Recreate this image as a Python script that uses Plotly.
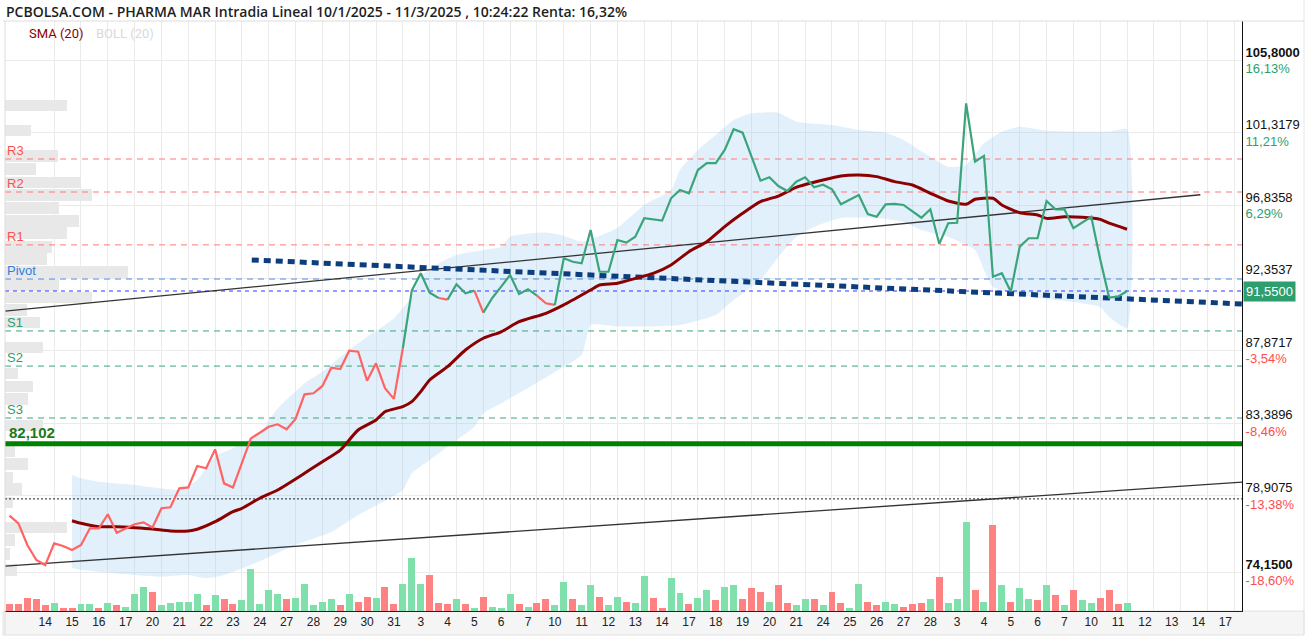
import plotly.graph_objects as go

# ---------------- data ----------------
days = ["13", "14", "15", "16", "17", "20", "21", "22", "23", "24", "27", "28", "29", "30", "31",
        "3", "4", "5", "6", "7", "10", "11", "12", "13", "14", "17", "18", "19", "20", "21",
        "24", "25", "26", "27", "28",
        "3", "4", "5", "6", "7", "10", "11", "12", "13", "14", "17"]
BARS_PER_DAY = 3

price = [77.66, 77.19, 75.85, 74.92, 74.61, 75.95, 75.79, 75.54, 75.85, 76.88,
         76.88, 77.75, 76.61, 76.88, 77.13, 77.25, 76.94, 78.12, 78.18, 79.35,
         79.41, 80.73, 80.59, 81.76, 79.66, 79.41, 80.90, 82.44, 82.79, 83.16,
         83.31, 83.00, 83.64, 85.16, 85.23, 85.68, 86.81, 86.73, 87.86, 87.80,
         86.01, 87.08, 85.54, 84.88, 88.01, 91.57, 92.65, 91.45, 91.12, 91.02,
         91.97, 91.41, 91.57, 90.21, 91.12, 91.82, 92.54, 91.37, 91.66, 91.26,
         90.79, 90.69, 93.57, 93.36, 93.26, 95.32, 92.74, 92.74, 94.70, 94.54,
         94.91, 96.05, 95.98, 95.90, 97.28, 97.79, 97.59, 99.03, 99.45, 99.45,
         100.27, 101.55, 101.34, 99.85, 98.37, 98.58, 98.04, 97.73, 98.31, 98.58,
         97.96, 98.12, 97.84, 96.91, 97.18, 97.49, 96.31, 96.14, 96.91, 96.93,
         96.87, 96.45, 96.08, 96.60, 94.46, 95.74, 95.77, 103.15, 99.54, 99.90,
         92.43, 92.65, 91.51, 94.29, 94.81, 94.81, 97.11, 96.60, 96.60, 95.43,
         95.77, 96.14, 93.51, 91.15, 91.20, 91.55]

volume = [6.7, 6.7, 13.3, 11.7, 5.7, 8.3, 3.3, 3.3, 6.7, 6.7,
          3.3, 8.3, 5.7, 4.3, 16.7, 24.3, 19.3, 5.7, 8.3, 9.3,
          9.3, 16.7, 5.7, 15.7, 11.7, 6.7, 10.7, 41.7, 6.7, 20.7,
          16.7, 11.7, 13.3, 26.7, 5.7, 9.3, 11.7, 5.7, 16.7, 9.3,
          14.3, 13.3, 24.3, 6.7, 26.7, 53.0, 26.7, 35.7, 8.3, 6.7,
          11.7, 6.7, 2.7, 14.3, 4.3, 3.3, 16.7, 6.7, 4.3, 8.3,
          11.7, 5.7, 29.3, 11.7, 5.7, 25.7, 14.3, 5.7, 14.3, 9.3,
          8.3, 35.0, 13.3, 3.3, 33.3, 18.3, 7.3, 13.3, 20.7, 10.7,
          24.3, 25.7, 11.7, 23.3, 19.3, 9.3, 25.7, 8.3, 5.7, 11.7,
          11.7, 5.7, 19.3, 8.3, 3.3, 26.7, 9.3, 5.7, 9.3, 6.7,
          4.3, 6.7, 8.3, 11.7, 34.3, 8.3, 11.7, 89.0, 20.7, 9.3,
          86.0, 25.7, 9.3, 23.3, 11.7, 10.7, 25.7, 15.7, 5.7, 20.7,
          10.7, 8.3, 13.3, 20.7, 6.7, 8.3]

vol_up = ("rrrrrgrrgg" "rgrgggrggg" "ggrgrrgggg" "grgggggrgr" "rgrrgggrrr"
          "grgrgggrgr" "rggrggrggr" "ggrrggrggr" "ggrrrgrrgg" "rgrrggrrgg"
          "rrrgrgggrg" "rgrggrgrgr" "ggrrrg")

sma_idx = [7, 8, 10, 12, 14, 16, 18, 20, 21, 23, 25, 26, 28, 30, 33, 35, 37, 39, 41, 42,
           44, 45, 46, 47, 49, 51, 53, 55, 57, 60, 62, 65, 66, 68, 70, 72, 74, 76, 78, 80,
           82, 84, 86, 88, 91, 93, 95, 97, 99, 101, 103, 105, 107, 108, 110, 111, 113, 115, 116, 118,
           120, 122, 123, 125]
sma_val = [77.35, 77.19, 76.98, 76.98, 76.92, 76.84, 76.72, 76.72, 76.82, 77.29,
           77.91, 78.12, 78.74, 79.25, 80.28, 81.00, 81.72, 82.96, 83.58, 84.09,
           84.40, 84.71, 85.33, 86.05, 86.87, 87.90, 88.63, 89.03, 89.65, 90.17,
           90.69, 91.61, 91.92, 92.03, 92.33, 92.64, 93.16, 93.98, 94.60, 95.53,
           96.35, 97.07, 97.42, 97.96, 98.41, 98.66, 98.72, 98.62, 98.31, 98.10,
           97.59, 97.11, 96.91, 97.22, 97.28, 96.87, 96.39, 96.25, 96.04, 96.14,
           96.11, 95.98, 95.74, 95.37]

boll_up_idx = [7, 8, 10, 14, 17, 19, 21, 23, 25, 26, 28, 30, 33, 35, 38, 40, 42, 43, 45, 46,
               48, 50, 53, 55, 56, 60, 62, 64, 66, 68, 71, 74, 75, 77, 79, 81, 83, 86, 88, 92,
               95, 98, 100, 103, 105, 107, 109, 111, 113, 116, 120, 123, 125]
boll_up_val = [80.18, 79.97, 79.76, 79.56, 79.35, 79.25, 79.87, 81.31, 81.83, 82.14,
               82.75, 84.30, 85.84, 86.56, 87.90, 88.73, 89.45, 89.86, 91.20, 92.44,
               93.26, 93.78, 94.09, 94.29, 94.91, 95.16, 94.95, 94.60, 94.95, 95.45,
               96.87, 97.79, 99.03, 100.27, 101.20, 102.12, 102.54, 102.57, 102.02, 101.81,
               101.50, 101.34, 100.89, 99.85, 99.23, 99.34, 100.68, 101.40, 101.71, 101.46,
               101.40, 101.40, 101.55]
boll_lo_idx = [7, 8, 10, 14, 17, 20, 22, 24, 27, 32, 36, 39, 44, 45, 47, 49, 52, 53, 55, 58,
               61, 64, 65, 68, 71, 75, 79, 81, 84, 86, 88, 90, 93, 97, 100, 102, 105, 108, 109, 110,
               112, 115, 119, 122, 123, 125]
boll_lo_val = [74.43, 74.30, 74.20, 74.00, 73.89, 73.99, 73.79, 73.99, 74.61, 75.85,
               76.65, 77.70, 79.25, 80.28, 81.10, 81.93, 83.16, 83.99, 84.61, 85.55,
               86.54, 87.59, 89.45, 89.35, 89.35, 89.45, 90.07, 91.00, 92.23, 93.65,
               94.89, 95.51, 96.06, 96.06, 95.82, 95.32, 94.89, 94.09, 92.85, 91.80,
               91.43, 91.12, 90.87, 90.56, 89.95, 89.27]

prof_price = [103.02, 101.47, 99.90, 99.09, 98.26, 97.49, 96.69, 95.88, 95.14, 94.27,
              93.53, 92.73, 91.92, 91.15, 90.37, 89.60, 88.06, 86.45, 85.65, 84.88,
              83.24, 81.66, 80.86, 80.02, 79.31, 78.47, 76.93, 76.16, 75.29, 74.30]
prof_vol = [62, 26, 53, 31, 76, 87, 54, 74, 62, 47, 42, 123, 54, 87, 22, 35, 38, 13, 28, 23,
            38, 10, 23, 8, 17, 8, 62, 10, 5, 12]

BASE = 91.10          # reference price for the % scale / line colour
LAST = 91.55
levels = {"R3": 99.71, "R2": 97.67, "R1": 94.40, "Pivot": 92.29,
          "S1": 89.08, "S2": 86.91, "S3": 83.70}
SUPPORT = 82.102
DOTTED = 78.70
trend_up_x, trend_up_y = [-0.5, 133.2], [90.31, 97.50]
trend_lo_x, trend_lo_y = [-0.5, 137.86], [74.55, 79.74]
trend_dot_x, trend_dot_y = [27.1, 137.86], [93.47, 90.75]

ytick_vals = [105.8, 101.3179, 96.8358, 92.3537, 87.8717, 83.3896, 78.9075, 74.15]
ytick_price = ["105,8000", "101,3179", "96,8358", "92,3537", "87,8717", "83,3896", "78,9075", "74,1500"]
ytick_pct = ["16,13%", "11,21%", "6,29%", "1,37%", "-3,54%", "-8,46%", "-13,38%", "-18,60%"]

# ---------------- geometry ----------------
W, H = 1309, 638
ML, MR, MT, MB = 5, 67, 21, 27
PW, PH = W - ML - MR, H - MT - MB
X_MIN, X_MAX = -0.5, 137.86
Y_MIN, Y_MAX = 71.77, 108.24

def pxx(px):
    return (px - ML) / PW

def pxy(py):
    return 1 - (py - MT) / PH

GREEN = "#3aa57a"
RED = "#ff6363"

n = len(price)
xs = list(range(n))

fig = go.Figure()

# volume profile (base axes, drawn beneath everything)
fig.add_trace(go.Bar(x=prof_vol, y=prof_price, orientation="h", width=0.72, base=0,
                     marker=dict(color="#e8e8e8", line=dict(width=0)),
                     xaxis="x", yaxis="y", hoverinfo="skip"))

# bollinger band
band_x = boll_up_idx + boll_lo_idx[::-1]
band_y = boll_up_val + boll_lo_val[::-1]
fig.add_trace(go.Scatter(x=band_x, y=band_y, fill="toself", mode="lines",
                         line=dict(width=0, shape="spline", smoothing=0.5),
                         fillcolor="rgba(140,198,240,0.26)", xaxis="x2", yaxis="y",
                         hoverinfo="skip"))

def hline(y, color, width, dash):
    fig.add_trace(go.Scatter(x=[X_MIN, X_MAX], y=[y, y], mode="lines",
                             line=dict(color=color, width=width, dash=dash),
                             xaxis="x2", yaxis="y", hoverinfo="skip"))

lvl_col = {"R3": "#ff7878", "R2": "#ff7878", "R1": "#ff7878", "Pivot": "#4a8fe6",
           "S1": "#3aa57a", "S2": "#3aa57a", "S3": "#3aa57a"}
txt_col = {"R3": "#ff5050", "R2": "#ff5050", "R1": "#ff5050", "Pivot": "#2f7fe0",
           "S1": "#2e9e6e", "S2": "#2e9e6e", "S3": "#2e9e6e"}
for k, v in levels.items():
    hline(v, lvl_col[k], 1, "6px,5px")
hline(LAST, "#3535ff", 1, "4px,4px")
hline(DOTTED, "#222222", 1, "2px,2px")
hline(SUPPORT, "#008000", 5, "solid")

# trend lines
fig.add_trace(go.Scatter(x=trend_up_x, y=trend_up_y, mode="lines",
                         line=dict(color="#333333", width=1.3), xaxis="x2", yaxis="y", hoverinfo="skip"))
fig.add_trace(go.Scatter(x=trend_lo_x, y=trend_lo_y, mode="lines",
                         line=dict(color="#333333", width=1.3), xaxis="x2", yaxis="y", hoverinfo="skip"))
fig.add_trace(go.Scatter(x=trend_dot_x, y=trend_dot_y, mode="lines",
                         line=dict(color="#0c3d7c", width=5, dash="7px,5px"),
                         xaxis="x2", yaxis="y", hoverinfo="skip"))

# SMA
fig.add_trace(go.Scatter(x=sma_idx, y=sma_val, mode="lines",
                         line=dict(color="#8b0000", width=3, shape="spline", smoothing=0.6),
                         xaxis="x2", yaxis="y", hoverinfo="skip"))

# price line, coloured per segment
def segs(col):
    sx, sy = [], []
    for i in range(1, n):
        c = "g" if price[i] >= BASE else "r"
        if c != col:
            continue
        if sx and sx[-1] == i - 1:
            sx.append(i); sy.append(price[i])
        else:
            if sx:
                sx.append(None); sy.append(None)
            sx += [i - 1, i]; sy += [price[i - 1], price[i]]
    return sx, sy

for col, colour in (("r", RED), ("g", GREEN)):
    sx, sy = segs(col)
    fig.add_trace(go.Scatter(x=sx, y=sy, mode="lines", connectgaps=False,
                             line=dict(color=colour, width=2.2), xaxis="x2", yaxis="y",
                             hoverinfo="skip"))

# volume
vcols = ["#80e0ab" if c == "g" else "#ff8282" for c in vol_up[:n]]
fig.add_trace(go.Bar(x=xs, y=volume, width=0.78, marker=dict(color=vcols, line=dict(width=0)),
                     xaxis="x2", yaxis="y2", hoverinfo="skip"))

# ---------------- axes ----------------
tick_pos = [BARS_PER_DAY * d + 1 for d in range(1, len(days))]
tick_txt = days[1:]
grid_pos = [BARS_PER_DAY * d + 2 for d in range(1, len(days))]

ytext = []
for i, (p, c) in enumerate(zip(ytick_price, ytick_pct)):
    pc = "#2e9e6e" if not c.startswith("-") else "#ff4d4d"
    pt = f"<b>{p}</b>" if i in (0, len(ytick_price) - 1) else p
    ytext.append(f"{pt}<br><span style='color:{pc}'>{c}</span>")

fig.update_layout(
    width=W, height=H, margin=dict(l=ML, r=MR, t=MT, b=MB),
    paper_bgcolor="white", plot_bgcolor="white", showlegend=False,
    font=dict(family="Liberation Sans, Arial, sans-serif", size=12, color="#111"),
    xaxis=dict(range=[0, PW], visible=False, fixedrange=True),
    xaxis2=dict(overlaying="x", anchor="y", side="bottom", range=[X_MIN, X_MAX],
                tickmode="array", tickvals=tick_pos, ticktext=tick_txt, showgrid=False,
                showline=True, linecolor="#222", linewidth=1, ticks="", zeroline=False,
                tickfont=dict(size=12, color="#222"),
                minor=dict(tickmode="array", tickvals=grid_pos, showgrid=True,
                           gridcolor="#ebebeb", gridwidth=1, ticks="")),
    yaxis=dict(side="right", anchor="x", range=[Y_MIN, Y_MAX], tickmode="array",
               tickvals=ytick_vals, ticktext=ytext, showgrid=True, gridcolor="#ebebeb",
               showline=True, linecolor="#111", linewidth=1, zeroline=False, ticks="",
               tickfont=dict(size=13, color="#111")),
    yaxis2=dict(overlaying="y", range=[0, PH], visible=False),
    bargap=0,
)

# frame & bottom strip
fig.add_shape(type="rect", xref="paper", yref="paper", x0=pxx(3), x1=pxx(1304),
              y0=pxy(635), y1=pxy(611), fillcolor="#f5f5f5", line=dict(color="#e2e2e2", width=1),
              layer="below")
fig.add_shape(type="line", xref="paper", yref="paper", x0=pxx(3), x1=pxx(1304),
              y0=1, y1=1, line=dict(color="#dddddd", width=1))
fig.add_shape(type="line", xref="paper", yref="paper", x0=0, x1=0,
              y0=pxy(635), y1=1, line=dict(color="#dddddd", width=1))
fig.add_shape(type="line", xref="paper", yref="paper", x0=pxx(1304), x1=pxx(1304),
              y0=pxy(635), y1=pxy(0), line=dict(color="#e6e6e6", width=1))

# texts
fig.add_annotation(xref="paper", yref="paper", x=pxx(4), y=pxy(12), xanchor="left", yanchor="middle",
                   showarrow=False,
                   text="PCBOLSA.COM - PHARMA MAR Intradia Lineal 10/1/2025 - 11/3/2025 , 10:24:22 Renta: 16,32%",
                   font=dict(family="Open Sans", size=14, color="#1e1e1e", weight=600))
fig.add_annotation(xref="paper", yref="paper", x=pxx(27), y=pxy(34), xanchor="left", yanchor="middle",
                   showarrow=False, text="SMA (20)", font=dict(family="Roboto", size=13, color="#8b0000"))
fig.add_annotation(xref="paper", yref="paper", x=pxx(94), y=pxy(34), xanchor="left", yanchor="middle",
                   showarrow=False, text="BOLL (20)", font=dict(family="Roboto", size=13, color="#d9d9d9"))

for k, v in levels.items():
    fig.add_annotation(xref="paper", yref="y", x=0, y=v, xanchor="left", yanchor="bottom",
                       showarrow=False, text=k, yshift=-1,
                       font=dict(family="Liberation Sans", size=13, color=txt_col[k]))
fig.add_annotation(xref="paper", yref="y", x=pxx(7), y=SUPPORT, xanchor="left", yanchor="bottom",
                   showarrow=False, text="<b>82,102</b>", yshift=1,
                   font=dict(family="Liberation Sans", size=15, color="#1b7a1b"))
fig.add_annotation(xref="paper", yref="y", x=1, y=LAST, xanchor="left", yanchor="middle",
                   showarrow=False, text="91,5500", bgcolor="#2e9e6e", borderpad=2, xshift=1,
                   font=dict(family="Liberation Sans", size=13, color="white"))

fig.write_html("out.html")
